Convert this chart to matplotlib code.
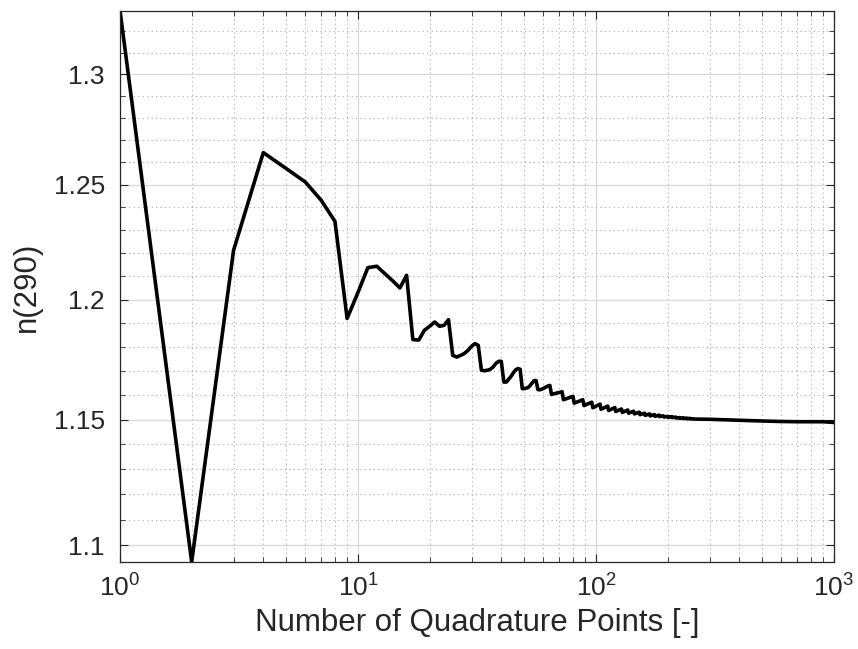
import numpy as np
import matplotlib
matplotlib.use('Agg')
import matplotlib.pyplot as plt
from matplotlib.ticker import NullFormatter, FixedLocator

plt.rcParams['font.family'] = ['Liberation Sans', 'DejaVu Sans']
plt.rcParams['mathtext.fontset'] = 'custom'
plt.rcParams['mathtext.rm'] = 'Liberation Sans'

# number of quadrature points
n_quad = [1, 2, 3, 4, 5, 6, 7, 8, 9, 10, 11, 12, 13, 14, 15, 16,
          17, 18, 19, 20, 21, 22, 23, 24, 25, 26, 27, 28, 29, 30, 31, 32,
          33, 34, 35, 36, 37, 38, 39, 40, 41, 42, 43, 44, 45, 46, 47, 48,
          49, 50, 51, 52, 53, 54, 55, 56, 57, 58, 59, 60, 61, 62, 63, 64,
          65, 72, 73, 80, 81, 88, 89, 96, 97, 104, 105, 112, 113, 120, 121,
          128, 129, 136, 137, 144, 145, 152, 153, 160, 161, 168, 169, 176, 177,
          184, 185, 192, 193, 200, 201, 208, 209, 216, 217, 224, 225, 232, 233,
          240, 241, 248, 249, 256, 257, 300, 400, 500, 600, 700, 800, 900, 1000]

# n(290) values
n290 = [1.3297, 1.0934, 1.2213, 1.2644, 1.2572, 1.2513, 1.2432, 1.2339,
        1.1921, 1.2032, 1.2138, 1.2144, 1.2111, 1.2081, 1.2051, 1.2105,
        1.1832, 1.1830, 1.1871, 1.1888, 1.1906, 1.1888, 1.1892, 1.1916,
        1.1766, 1.1759, 1.1766, 1.1774, 1.1787, 1.1804, 1.1815, 1.1808,
        1.1704, 1.1702, 1.1704, 1.1708, 1.1718, 1.1733, 1.1741, 1.1741,
        1.1655, 1.1655, 1.1667, 1.1679, 1.1694, 1.1706, 1.1711, 1.1708,
        1.1628, 1.1628, 1.1630, 1.1633, 1.1642, 1.1652, 1.1661, 1.1661,
        1.1624, 1.1623, 1.1625, 1.1628, 1.1632, 1.1636, 1.1639, 1.1641,
        1.1604, 1.1615, 1.1582, 1.1596, 1.1568, 1.1582, 1.1558, 1.1572, 1.1549,
        1.1564, 1.1543, 1.1556, 1.1538, 1.1550, 1.1534, 1.1544, 1.1530,
        1.1540, 1.1527, 1.1535, 1.1524, 1.1531, 1.1521, 1.1527, 1.1518,
        1.1524, 1.1516, 1.1521, 1.1514, 1.1519, 1.1513, 1.1516, 1.1511,
        1.1514, 1.1510, 1.1513, 1.1509, 1.1511, 1.1507, 1.1509, 1.1506,
        1.1508, 1.1505, 1.1507, 1.1504, 1.1506, 1.1504, 1.1504, 1.1503,
        1.1502, 1.1498, 1.1495, 1.1493, 1.1492, 1.1492, 1.1492, 1.1489]

y_ticks = [1.1, 1.15, 1.2, 1.25, 1.3]
y_ticklabels = ['1.1', '1.15', '1.2', '1.25', '1.3']
y_minor = [1.11, 1.12, 1.13, 1.14, 1.16, 1.17, 1.18, 1.19, 1.21, 1.22,
           1.23, 1.24, 1.26, 1.27, 1.28, 1.29, 1.31, 1.32]
x_ticks = [1, 10, 100, 1000]
x_ticklabels = ['$10^{0}$', '$10^{1}$', '$10^{2}$', '$10^{3}$']

fig = plt.figure(figsize=(8.58, 6.49), dpi=100)
ax = fig.add_axes([0.1399, 0.1341, 0.8321, 0.8494])

ax.plot(n_quad, n290, color='black', linewidth=2.6)

ax.set_xscale('log')
ax.set_yscale('log')
ax.set_xlim(1, 1000)
ax.set_ylim(min(n290), max(n290))

ax.set_xticks(x_ticks)
ax.set_xticklabels(x_ticklabels)
ax.set_yticks(y_ticks)
ax.set_yticklabels(y_ticklabels)
ax.yaxis.set_minor_locator(FixedLocator(y_minor))
ax.yaxis.set_minor_formatter(NullFormatter())
ax.xaxis.set_minor_formatter(NullFormatter())

# matlab-ish look
ax.grid(True, which='major', color='#d9d9d9', linestyle='-', linewidth=0.9)
ax.grid(True, which='minor', color='#ababab', linestyle=(0, (1, 3)), linewidth=0.8)
ax.set_axisbelow(True)
for s in ax.spines.values():
    s.set_color('#262626')
    s.set_linewidth(0.9)
ax.tick_params(which='both', direction='in', top=True, right=True, colors='#262626')
ax.tick_params(which='major', length=6, width=0.8, labelsize=19, pad=8)
ax.tick_params(which='minor', length=3.5, width=0.6)
ax.tick_params(axis='y', which='major', pad=11)

ax.set_xlabel('Number of Quadrature Points [-]', fontsize=22.5, color='#262626', labelpad=5)
ax.set_ylabel('n(290)', fontsize=22.5, color='#262626', labelpad=8)

fig.savefig('out.png', dpi=100)
